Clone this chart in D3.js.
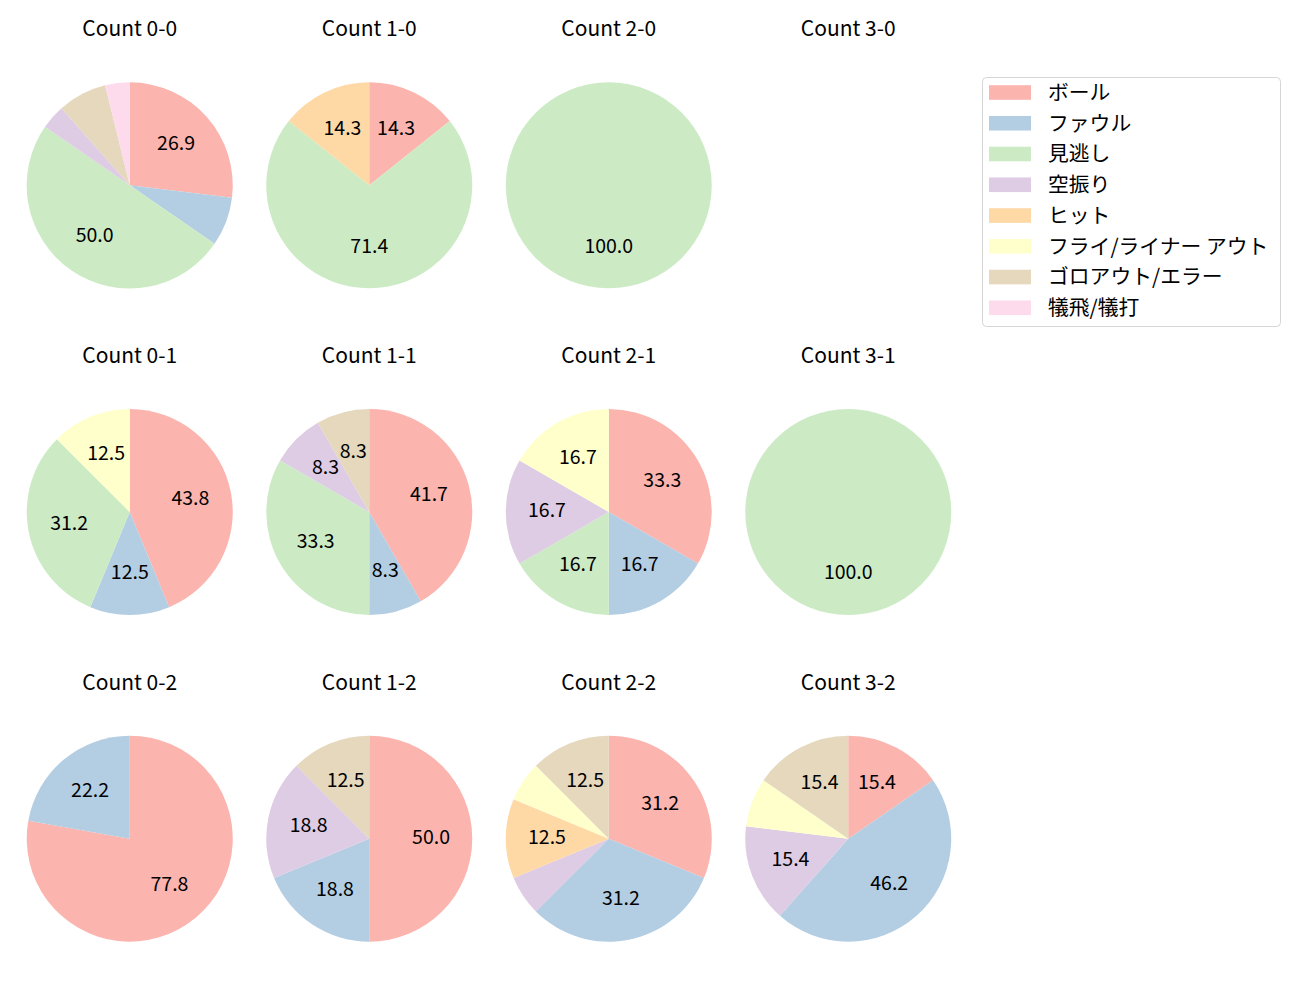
<!DOCTYPE html>
<html>
<head>
<meta charset="utf-8">
<script src="https://cdn.jsdelivr.net/npm/d3@7"></script>
<style>
  html, body { margin: 0; padding: 0; background: #ffffff; }
  svg { display: block; }
  text { font-family: "Noto Sans CJK JP", "Noto Sans", sans-serif; fill: #000; }
</style>
</head>
<body>
<svg id="chart" width="1300" height="1000"></svg>
<script>
// ---- categories (legend order) ----
const categories = ["ボール", "ファウル", "見逃し", "空振り", "ヒット", "フライ/ライナー アウト", "ゴロアウト/エラー", "犠飛/犠打"];
const colors = ["#fbb4ae", "#b3cde3", "#ccebc5", "#decbe4", "#fed9a6", "#ffffcc", "#e5d8bd", "#fddaec"];

// ---- counts per ball-strike situation (same order as categories) ----
const count00 = [7, 2, 13, 1, 0, 0, 2, 1];
const count10 = [1, 0, 5, 0, 1, 0, 0, 0];
const count20 = [0, 0, 1, 0, 0, 0, 0, 0];
const count30 = [0, 0, 0, 0, 0, 0, 0, 0];
const count01 = [7, 2, 5, 0, 0, 2, 0, 0];
const count11 = [5, 1, 4, 1, 0, 0, 1, 0];
const count21 = [2, 1, 1, 1, 0, 1, 0, 0];
const count31 = [0, 0, 1, 0, 0, 0, 0, 0];
const count02 = [7, 2, 0, 0, 0, 0, 0, 0];
const count12 = [8, 3, 0, 3, 0, 0, 2, 0];
const count22 = [5, 5, 0, 1, 2, 1, 2, 0];
const count32 = [2, 6, 0, 2, 0, 1, 2, 0];

const balls = [0, 1, 2, 3];
const strikes = [0, 1, 2];
const panelValues = [
  [count00, count10, count20, count30],
  [count01, count11, count21, count31],
  [count02, count12, count22, count32]
];

// ---- layout ----
const svg = d3.select("#chart");
const xBand = d3.scaleBand().domain(balls).range([10, 968]);
const yBand = d3.scaleBand().domain(strikes).range([22, 1002]);
const R = 103;

// python-like "%.1f" (round half to even)
function fmt1(v) {
  const s = v * 10;
  const f = Math.floor(s);
  const diff = s - f;
  let r;
  if (Math.abs(diff - 0.5) < 1e-9) r = (f % 2 === 0) ? f : f + 1;
  else r = Math.round(s);
  return (r / 10).toFixed(1);
}

const pie = d3.pie().sort(null).value(d => d.v).startAngle(0).endAngle(2 * Math.PI);
const arc = d3.arc().innerRadius(0).outerRadius(R);

strikes.forEach(s => {
  balls.forEach(b => {
    const vals = panelValues[s][b];
    const cx = xBand(b) + xBand.bandwidth() / 2;
    const cy = yBand(s) + yBand.bandwidth() / 2;
    const g = svg.append("g").attr("transform", `translate(${cx},${cy})`);

    g.append("text")
      .attr("x", 0).attr("y", -149)
      .attr("text-anchor", "middle")
      .style("font-size", "21px")
      .text(`Count ${b}-${s}`);

    const total = d3.sum(vals);
    if (total === 0) return;
    const data = vals.map((v, i) => ({ v, i }));
    const arcs = pie(data).filter(a => a.data.v > 0);

    g.selectAll("path.w").data(arcs).enter().append("path")
      .attr("class", "w")
      .attr("d", arc)
      .attr("fill", d => colors[d.data.i]);

    g.selectAll("text.p").data(arcs.filter(a => 100 * a.data.v / total > 8)).enter().append("text")
      .attr("class", "p")
      .attr("x", d => 0.6 * R * Math.sin((d.startAngle + d.endAngle) / 2))
      .attr("y", d => -0.6 * R * Math.cos((d.startAngle + d.endAngle) / 2))
      .attr("dy", "0.28em")
      .attr("text-anchor", "middle")
      .style("font-size", "19.5px")
      .text(d => fmt1(100 * d.data.v / total));
  });
});

// ---- legend ----
const lg = svg.append("g");
lg.append("rect")
  .attr("x", 982.5).attr("y", 77.5).attr("width", 298).attr("height", 249)
  .attr("rx", 4).attr("ry", 4)
  .attr("fill", "#ffffff").attr("stroke", "#d6d6d6").attr("stroke-width", 1);
const ly = d3.scalePoint().domain(d3.range(categories.length)).range([92.5, 307.8]);
categories.forEach((c, i) => {
  lg.append("rect")
    .attr("x", 989).attr("y", ly(i) - 7.3)
    .attr("width", 42).attr("height", 14.6)
    .attr("fill", colors[i]);
  lg.append("text")
    .attr("x", 1048).attr("y", ly(i)).attr("dy", "0.35em")
    .style("font-size", "20.8px")
    .text(c);
});
</script>
</body>
</html>
